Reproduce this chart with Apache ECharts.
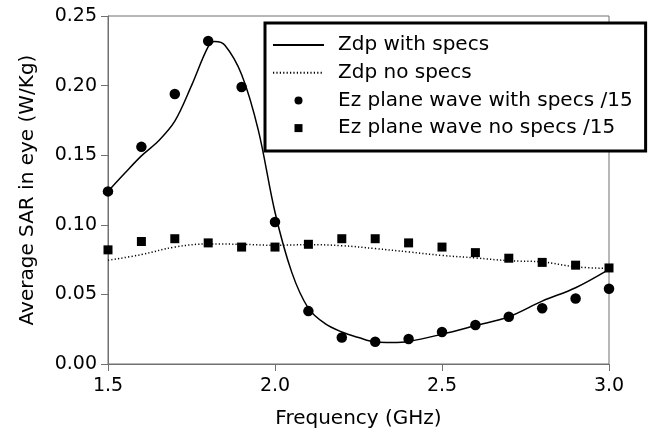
<!DOCTYPE html>
<html>
<head>
<meta charset="utf-8">
<script src="https://cdn.jsdelivr.net/npm/echarts@6/dist/echarts.min.js"></script>
<style>html,body{margin:0;padding:0;background:#fff}#c{width:652px;height:434px}</style>
</head>
<body>
<div id="c"></div>
<script>
// Frequencies of the plane-wave points (GHz)
var ezFreq = [1.5,1.6,1.7,1.8,1.9,2.0,2.1,2.2,2.3,2.4,2.5,2.6,2.7,2.8,2.9,3.0];
var ezWithSpecs = [0.124,0.156,0.194,0.232,0.199,0.102,0.038,0.019,0.016,0.018,0.023,0.028,0.034,0.040,0.047,0.054];
var ezNoSpecs = [0.082,0.088,0.090,0.087,0.084,0.084,0.086,0.090,0.090,0.087,0.084,0.080,0.076,0.073,0.071,0.069];

// Zdp with specs curve
var zdpWithFreq = [1.5,1.55,1.6,1.65,1.7,1.75,1.8,1.82,1.85,1.9,1.95,2.0,2.05,2.1,2.15,2.2,2.25,2.3,2.35,2.4,2.5,2.6,2.7,2.8,2.9,3.0];
var zdpWithVals = [0.124,0.137,0.1495,0.160,0.1745,0.200,0.228,0.2317,0.229,0.208,0.168,0.109,0.066,0.040,0.029,0.023,0.019,0.0158,0.0155,0.0162,0.0214,0.0276,0.034,0.0452,0.0548,0.068];

// Zdp no specs curve
var zdpNoFreq = [1.5,1.6,1.7,1.8,1.9,2.0,2.1,2.2,2.3,2.4,2.5,2.6,2.7,2.8,2.9,3.0];
var zdpNoVals = [0.0745,0.0786,0.084,0.0862,0.086,0.0853,0.0857,0.085,0.0829,0.0805,0.078,0.0762,0.0742,0.0733,0.0698,0.0686];

var xTicks = {min:1.5, max:3.0, interval:0.5};
var yTicks = {min:0, max:0.25, interval:0.05};

function pairs(xs, ys){ return xs.map(function(x,i){ return [x, ys[i]]; }); }

var FONT = 'DejaVu Sans';
var AX = '#707070';
var hideSym = {opacity:0};
var chart = echarts.init(document.getElementById('c'), null, {renderer:'canvas'});
chart.setOption({
  animation:false,
  backgroundColor:'#fff',
  grid:{left:108, right:43, top:16, bottom:68, show:true, borderColor:AX, borderWidth:1, backgroundColor:'transparent'},
  xAxis:{
    type:'value', min:xTicks.min, max:xTicks.max, interval:xTicks.interval,
    name:'Frequency (GHz)', nameLocation:'middle', nameGap:45,
    nameTextStyle:{fontFamily:FONT, fontSize:20, color:'#000'},
    axisLine:{lineStyle:{color:AX, width:1}},
    axisTick:{show:true, inside:false, length:7, lineStyle:{color:AX}},
    axisLabel:{fontFamily:FONT, fontSize:19, color:'#000', margin:13, formatter:function(v){return v.toFixed(1);}},
    splitLine:{show:false}
  },
  yAxis:{
    type:'value', min:yTicks.min, max:yTicks.max, interval:yTicks.interval,
    name:'Average SAR in eye (W/Kg)', nameLocation:'middle', nameGap:70,
    nameTextStyle:{fontFamily:FONT, fontSize:20, color:'#000'},
    axisLine:{show:true, lineStyle:{color:AX, width:1}},
    axisTick:{show:true, inside:false, length:7, lineStyle:{color:AX}},
    axisLabel:{fontFamily:FONT, fontSize:19, color:'#000', margin:11, formatter:function(v){return v.toFixed(2);}},
    splitLine:{show:false}
  },
  legend:{
    orient:'vertical', left:265, top:23,
    padding:[12,13,13,7],
    itemWidth:51, itemHeight:8, itemGap:7.7,
    backgroundColor:'#fff', borderColor:'#000', borderWidth:3,
    textStyle:{fontFamily:FONT, fontSize:20, color:'#000', padding:[0,0,0,9]},
    data:[
      {name:'Zdp with specs', itemStyle:hideSym},
      {name:'Zdp no specs', itemStyle:hideSym},
      {name:'Ez plane wave with specs /15', icon:'circle'},
      {name:'Ez plane wave no specs /15', icon:'path://M0,0L1,0L1,1L0,1Z'}
    ]
  },
  series:[
    {name:'Zdp with specs', type:'line', smooth:0.35, showSymbol:false, symbol:'none',
     lineStyle:{color:'#000', width:1.5}, itemStyle:{color:'#000'},
     data:pairs(zdpWithFreq, zdpWithVals), z:2},
    {name:'Zdp no specs', type:'line', smooth:0.4, showSymbol:false, symbol:'none',
     lineStyle:{color:'#000', width:1.5, type:[1.2,2.2]}, itemStyle:{color:'#000'},
     data:pairs(zdpNoFreq, zdpNoVals), z:2},
    {name:'Ez plane wave with specs /15', type:'scatter', symbol:'circle', symbolSize:10.5,
     itemStyle:{color:'#000', opacity:1}, data:pairs(ezFreq, ezWithSpecs), z:3},
    {name:'Ez plane wave no specs /15', type:'scatter', symbol:'rect', symbolSize:9,
     itemStyle:{color:'#000', opacity:1}, data:pairs(ezFreq, ezNoSpecs), z:3}
  ]
});
</script>
</body>
</html>
